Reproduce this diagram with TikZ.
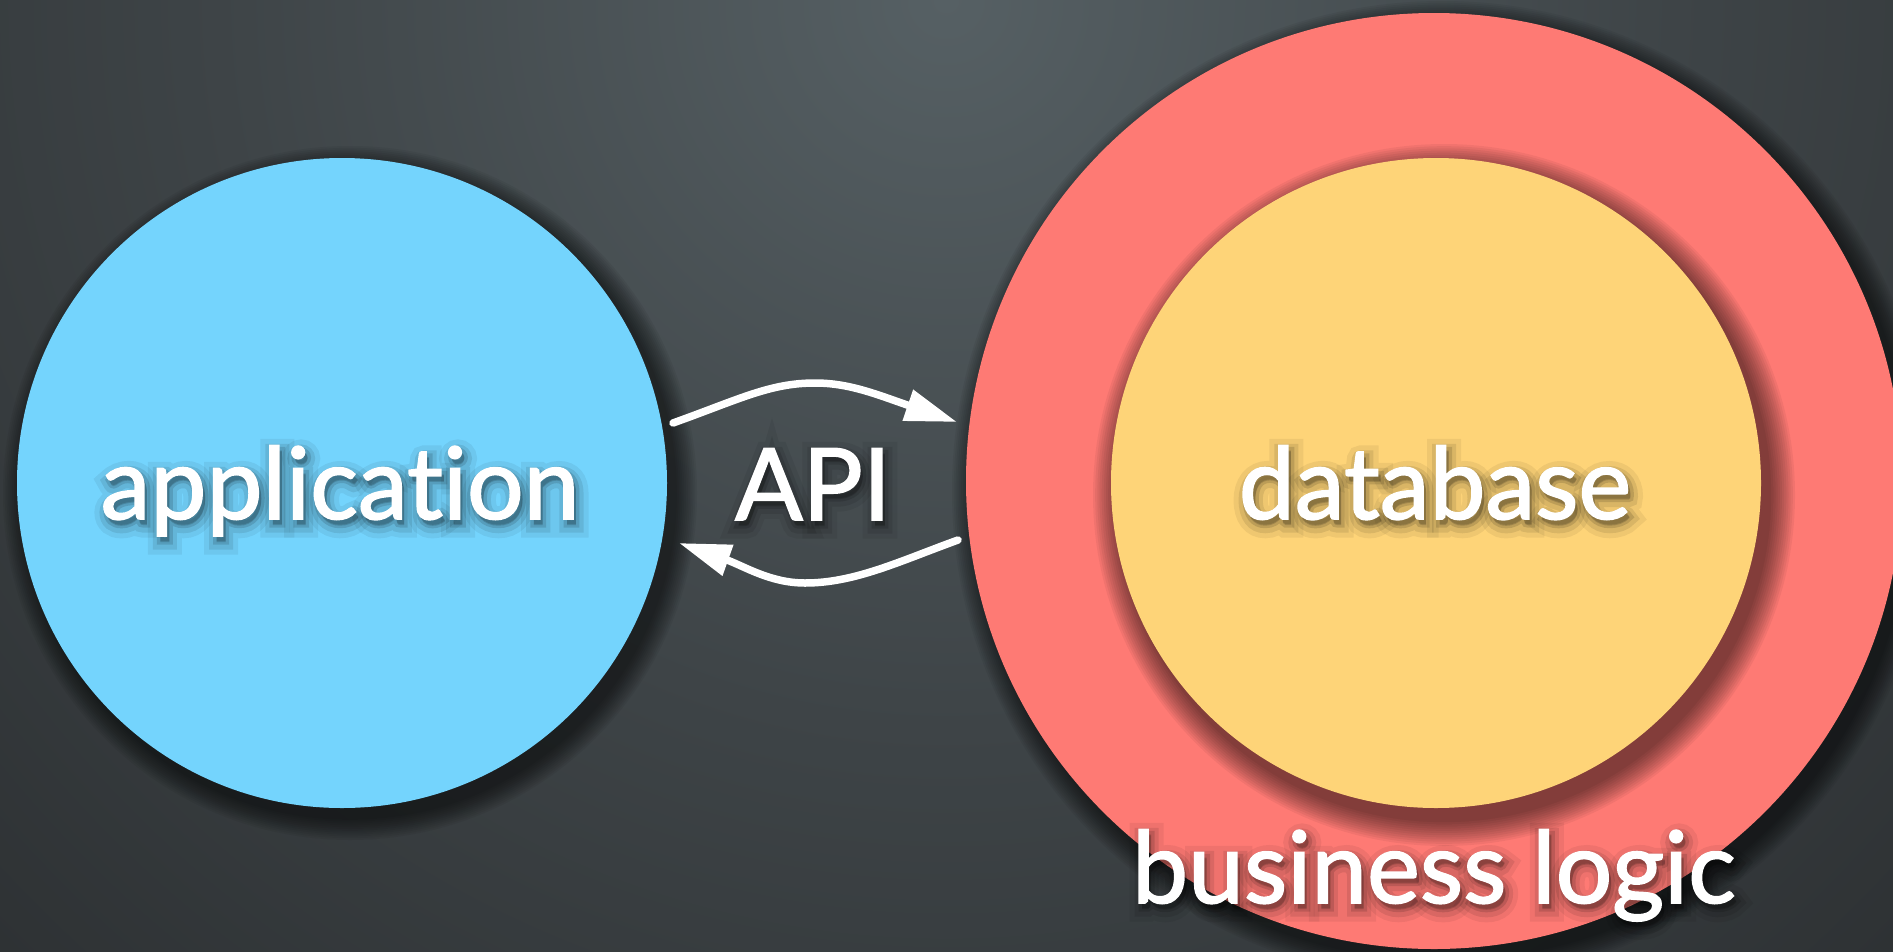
\documentclass[tikz,border=0pt]{standalone}
\usepackage{fontspec}
\setmainfont{Lato}[Ligatures=NoCommon]
\newfontfamily\lblfont{Lato}[Ligatures=NoCommon, FakeBold=1.6]
\newfontfamily\glowA{Lato}[Ligatures=NoCommon, FakeBold=7]
\newfontfamily\glowB{Lato}[Ligatures=NoCommon, FakeBold=15]
\newfontfamily\glowC{Lato}[Ligatures=NoCommon, FakeBold=25]
\usetikzlibrary{arrows.meta}
\definecolor{appblue}{RGB}{116,212,253}
\definecolor{bizred}{RGB}{254,122,116}
\definecolor{dbyellow}{RGB}{254,212,120}
\definecolor{bgA}{RGB}{86,96,100}
\definecolor{bgB}{RGB}{62,68,71}
\definecolor{bgC}{RGB}{40,43,45}
\definecolor{bgD}{RGB}{27,28,29}
\pgfdeclareradialshading{bgshade}{\pgfpoint{0bp}{0bp}}{color(0bp)=(bgA); color(13bp)=(bgB); color(28bp)=(bgC); color(42bp)=(bgD); color(50bp)=(bgD)}
\tikzset{
  disc/.style={circle, inner sep=0pt, minimum size=#1},
  lbl/.style={text=white, font=\lblfont\fontsize{100}{110}\selectfont, anchor=base, inner sep=0pt},
  glowa/.style={text=black, text opacity=0.13, font=\glowA\fontsize{100}{110}\selectfont, anchor=base, inner sep=0pt},
  glowb/.style={text=black, text opacity=0.09, font=\glowB\fontsize{100}{110}\selectfont, anchor=base, inner sep=0pt},
  glowc/.style={text=black, text opacity=0.06, font=\glowC\fontsize{100}{110}\selectfont, anchor=base, inner sep=0pt},
  flow/.style={white, line width=7.5pt, line cap=round, -{Triangle[length=52pt,width=31pt]}},
}
\newcommand{\discshadow}[4]{% x y r blur
  \foreach \k in {1,...,12}{\fill[black, opacity=0.05] (#1,#2) circle ({#3+#4*\k/12});}
}
\newcommand{\glowlabel}[4]{% name x y text
  \node[glowc] (#1gc) at (#2+3,#3+6) {#4};
  \node[glowb] (#1gb) at (#2+3,#3+6) {#4};
  \node[glowa] (#1ga) at (#2+3,#3+5) {#4};
  \node[lbl] (#1) at (#2,#3) {#4};
}
\begin{document}
\begin{tikzpicture}[x=1pt,y=-1pt]
\useasboundingbox (0,0) rectangle (1893,951);
\begin{scope}
  \clip (0,0) rectangle (1893,951);
  \shade[shading=bgshade] (946,0) circle (1400);
  \discshadow{350}{493}{325}{22}
  \discshadow{1442}{491}{468}{22}
  \node[disc=650pt, fill=appblue] (app) at (342,483) {};
  \node[disc=936pt, fill=bizred] (biz) at (1434,481) {};
  \discshadow{1444}{495}{325}{26}
  \node[disc=650pt, fill=dbyellow] (db) at (1436,483) {};
\end{scope}
\glowlabel{applbl}{340}{519}{application}
\glowlabel{apilbl}{813}{520}{API}
\glowlabel{dblbl}{1435}{519}{database}
\glowlabel{bizlbl}{1434}{903}{business logic}
\coordinate (reqStart) at (673,423);
\coordinate (reqTop) at (815,383);
\coordinate (reqEnd) at (957,422);
\coordinate (respStart) at (958,540);
\coordinate (respLow) at (805,583);
\coordinate (respEnd) at (679,543);
\draw[flow] (reqStart) .. controls (740,399) and (770,383) .. (reqTop) .. controls (850,383) and (878,395) .. (reqEnd);
\draw[flow] (respStart) .. controls (900,561) and (855,583) .. (respLow) .. controls (770,583) and (744,566) .. (respEnd);
\end{tikzpicture}
\end{document}
